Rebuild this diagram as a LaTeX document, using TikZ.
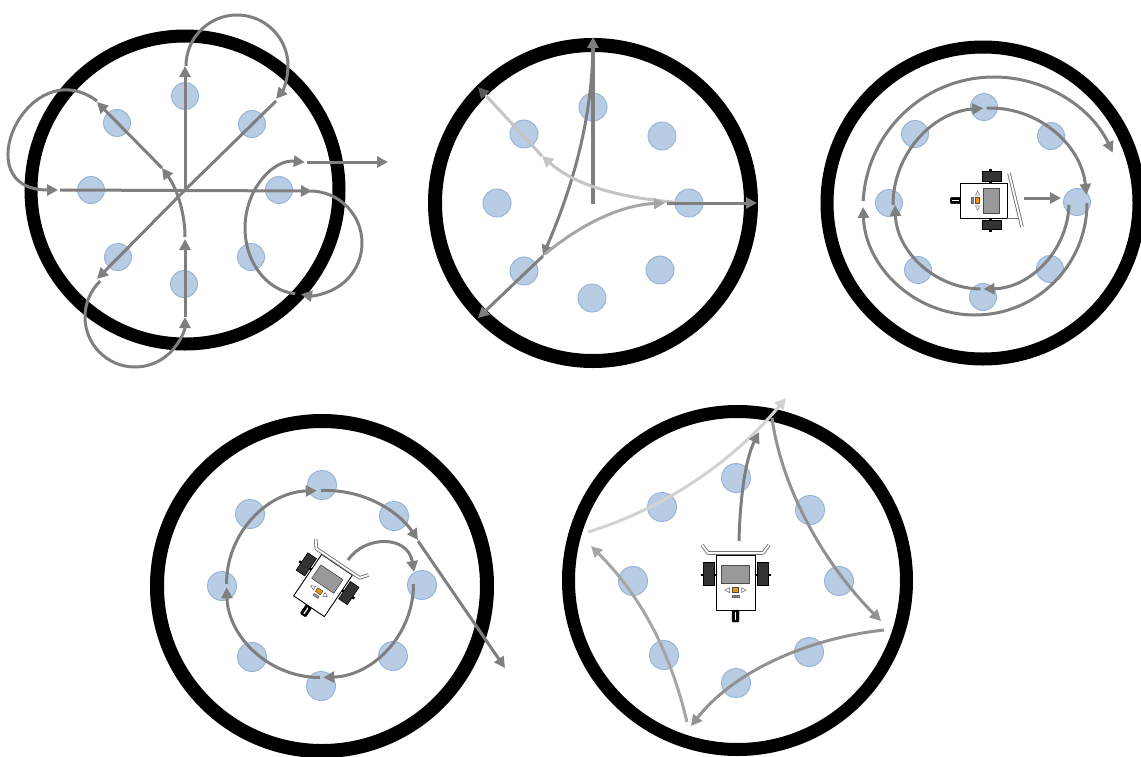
\documentclass[tikz,border=0pt]{standalone}
\usetikzlibrary{arrows.meta}

\definecolor{dotfill}{HTML}{B8CCE4}
\definecolor{dotline}{HTML}{95B3D7}
\definecolor{pathA}{HTML}{7F7F7F}
\definecolor{pathB}{HTML}{A6A6A6}
\definecolor{pathC}{HTML}{C4C4C4}
\definecolor{pathD}{HTML}{929292}
\definecolor{pathE}{HTML}{D2D2D2}
\definecolor{wheelgray}{HTML}{333333}
\definecolor{screengray}{HTML}{999999}
\definecolor{buttonorange}{HTML}{F39200}

\tikzset{
  ring/.style={draw=black, line width=13pt},
  dot/.style={circle, minimum size=27pt, inner sep=0pt, fill=dotfill, draw=dotline, line width=0.9pt},
  track/.style={draw=pathA, line width=3pt},
  trackarrow/.style={track, -{Triangle[length=11pt,width=11pt]}},
}

% top view of the robot, facing up, centred on its chassis
\newcommand{\robotbody}{%
  \draw[black, line width=2.5pt] (-35,-7.5) -- (35,-7.5);
  \filldraw[fill=wheelgray, draw=black, line width=0.6pt] (-32.5,-20.5) rectangle (-21.5,2.5);
  \filldraw[fill=wheelgray, draw=black, line width=0.6pt] (21.5,-20.5) rectangle (32.5,2.5);
  \filldraw[fill=white, draw=black, line width=0.9pt] (-19.5,-27.5) rectangle (19.5,27.5);
  \filldraw[fill=screengray, draw=black!70, line width=0.6pt] (-14,-17.5) rectangle (14,0.5);
  \filldraw[fill=buttonorange, draw=black!70, line width=0.5pt] (-3.2,5.2) rectangle (3.2,10);
  \draw[black!60, line width=0.5pt] (-6,5.2) -- (-10.5,7.6) -- (-6,10) -- cycle;
  \draw[black!60, line width=0.5pt] (6,5.2) -- (10.5,7.6) -- (6,10) -- cycle;
  \filldraw[fill=black!45, draw=black!60, line width=0.4pt] (-3.2,12.5) rectangle (3.2,15);
  \filldraw[fill=black, draw=black, rounded corners=1pt] (-3.5,27.5) rectangle (3.5,39.5);
  \draw[white, line width=1.2pt] (0,29.5) -- (0,37.5);
}
\newcommand{\robotbumper}{%
  \draw[black!55, line width=3.6pt, line join=round] (-33.5,-37.5) -- (-27.5,-29.5) -- (27.5,-29.5) -- (33.5,-37.5);
  \draw[white, line width=1.8pt, line join=round] (-33.5,-37.5) -- (-27.5,-29.5) -- (27.5,-29.5) -- (33.5,-37.5);
}

\begin{document}
\begin{tikzpicture}[x=1pt, y=-1pt]
\fill[white] (0,0) rectangle (1141,756);
\useasboundingbox (0,0) rectangle (1141,756);

% ---------- arenas ----------
\draw[ring] (185,190) circle[radius=154];
\draw[ring, line width=14pt] (593,203) circle[radius=158];
\draw[ring] (983,203) circle[radius=156];
\draw[ring, line width=14pt] (322,586) circle[radius=165];
\draw[ring] (737.5,580.5) circle[radius=169];

% ---------- targets ----------
\foreach \p [count=\i] in {(185,96),(252,124),(279,190),(251,257),(184,284),(118,257),(91,190),(117,123)}
  \node[dot] (a\i) at \p {};
\foreach \p [count=\i] in {(593,107),(662,136),(689,203),(660,270),(592,298),(524,271),(497,203),(524,134)}
  \node[dot, minimum size=28pt] (b\i) at \p {};
\foreach \p [count=\i] in {(984,107),(1051,136),(1077,202),(1050,269),(983,297),(918,270),(889,203),(915,134)}
  \node[dot] (c\i) at \p {};
\foreach \p [count=\i] in {(322,485),(394,516),(422,585),(393,656),(321,686),(252,657),(222,586),(250,514)}
  \node[dot, minimum size=29pt] (d\i) at \p {};
\foreach \p [count=\i] in {(736,478),(810,510),(839,581),(809,652),(736,683),(664,655),(633,581),(662,507)}
  \node[dot, minimum size=29pt] (e\i) at \p {};

% ---------- star pattern with loops ----------
\draw[trackarrow] (185,190) -- (185,66);
\draw[trackarrow] (237,66) ++(180:51) arc[start angle=180, end angle=400, radius=51];
\draw[track] (276,101) -- (185,190);
\draw[trackarrow] (185,190) -- (97,279);
\draw[trackarrow] (135,317) ++(226:50) arc[start angle=226, end angle=0, radius=50];
\draw[trackarrow] (185,317) -- (185,239);
\draw[trackarrow] (185,237) .. controls (185,215) and (178,190) .. (162,168);
\draw[trackarrow] (162,168) -- (97,102);
\draw[trackarrow] (97,101) .. controls (28,50) and (-36,190) .. (58,190);
\draw[trackarrow] (60,190) -- (312,191);
\draw[trackarrow] (310,243) ++(270:52) arc[start angle=270, end angle=460, radius=52];
\draw[trackarrow] (300,228) ++(95:55 and 66) arc[start angle=95, end angle=275, x radius=55, y radius=66];
\draw[trackarrow] (307,162) -- (388,162);

% ---------- three-way sweep ----------
\draw[trackarrow, line width=3.6pt] (593,204) -- (593,37);
\draw[trackarrow] (593,45) .. controls (592,140) and (560,215) .. (543,256);
\draw[trackarrow] (543,256) -- (478,318);
\draw[trackarrow, draw=pathC] (700,204) .. controls (620,200) and (575,185) .. (542,156);
\draw[track, draw=pathC, -{Triangle[length=11pt,width=11pt,color=black!65]}] (542,156) -- (478,87);
\draw[trackarrow, draw=pathB] (545,254) .. controls (580,225) and (620,205) .. (665,203);
\draw[trackarrow] (667,203) -- (757,203);

% ---------- double orbit ----------
\draw[trackarrow] (990,205) ++(180:97) arc[start angle=180, end angle=266, radius=97];
\draw[trackarrow] (990,205) ++(268:97) arc[start angle=268, end angle=354, radius=97];
\draw[trackarrow] (982,202) ++(2:87) arc[start angle=2, end angle=89, radius=87];
\draw[trackarrow] (982,202) ++(91:87) arc[start angle=91, end angle=178, radius=87];
\draw[trackarrow] (975,203) ++(0:112) arc[start angle=0, end angle=178, radius=112];
\draw[trackarrow] (994,208) ++(183:131) arc[start angle=183, end angle=335, radius=131];
\draw[trackarrow] (1024,198) -- (1061,198);
\begin{scope}[shift={(984,200.5)}, rotate=-90, xscale=0.9, yscale=0.85]
  \robotbody
\end{scope}
\draw[black!55, line width=3.6pt] (1009,173) -- (1022,227);
\draw[white, line width=1.8pt] (1009,173) -- (1022,227);
\draw[black!55, line width=1pt] (1007,218) -- (1019,218);

% ---------- orbit and exit ----------
\draw[trackarrow] (320,584) ++(0:93.5) arc[start angle=0, end angle=88, radius=93.5];
\draw[trackarrow] (320,584) ++(90:93.5) arc[start angle=90, end angle=178, radius=93.5];
\draw[trackarrow] (320,584) ++(180:93.5) arc[start angle=180, end angle=268, radius=93.5];
\draw[trackarrow] (321,490.5) .. controls (365,489) and (399,512) .. (418,540);
\draw[trackarrow] (418,541) -- (505,668);
\draw[trackarrow] (348,560) .. controls (365,535) and (408,535) .. (414,572);
\begin{scope}[shift={(323,585.5)}, rotate=-34, xscale=0.95, yscale=0.91]
  \robotbody
  \robotbumper
\end{scope}

% ---------- square sweep ----------
\draw[trackarrow, draw=pathE] (588,532) .. controls (660,510) and (730,465) .. (786,398);
\draw[trackarrow, draw=pathA] (739,541) .. controls (740,500) and (745,460) .. (759,432);
\draw[trackarrow, draw=pathD] (772,418) .. controls (782,490) and (825,565) .. (881,621);
\draw[trackarrow, draw=pathD] (884,630) .. controls (810,638) and (735,670) .. (691,726);
\draw[trackarrow, draw=pathB] (687,722) .. controls (670,650) and (640,595) .. (591,546);
\begin{scope}[shift={(735.5,582.5)}]
  \robotbody
  \robotbumper
\end{scope}
\end{tikzpicture}
\end{document}
